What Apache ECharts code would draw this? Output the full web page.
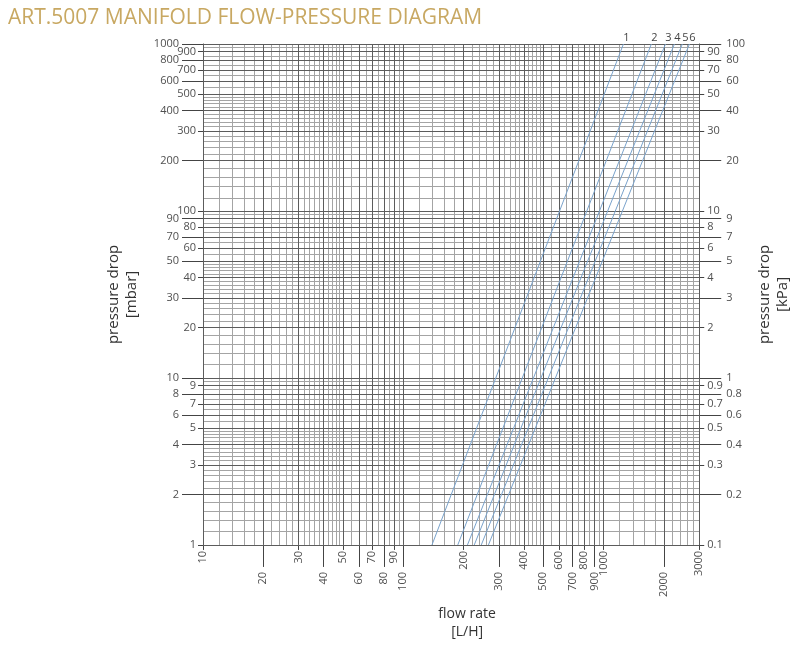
<!DOCTYPE html>
<html>
<head>
<meta charset="utf-8">
<script src="https://cdn.jsdelivr.net/npm/echarts@6/dist/echarts.min.js"></script>
<style>html,body{margin:0;padding:0;background:#fff;}#c{width:800px;height:646px;}</style>
</head>
<body>
<div id="c"></div>
<script>
// ---- data ----
const seriesNames = ['1', '2', '3', '4', '5', '6'];
const flowAtMinDrop = [139, 187, 209, 226, 245, 266];        // L/H at 1 mbar
const flowAtMaxDrop = [1255, 1730, 2035, 2255, 2470, 2680];  // L/H at 1000 mbar
const dropMin = 1, dropMax = 1000;                           // mbar

const xNearLabels = [10, 30, 50, 70, 90, 200, 400, 600, 800, 1000, 3000];
const xFarLabels = [20, 40, 60, 80, 100, 300, 500, 700, 900, 2000];
const yLeftNear = [1, 3, 5, 7, 9, 20, 40, 60, 80, 100, 300, 500, 700, 900];
const yLeftFar = [2, 4, 6, 8, 10, 30, 50, 70, 90, 200, 400, 600, 800, 1000];
const yRightNear = [0.1, 0.3, 0.5, 0.7, 0.9, 2, 4, 6, 8, 10, 30, 50, 70, 90];
const yRightFar = [0.2, 0.4, 0.6, 0.8, 1, 3, 5, 7, 9, 20, 40, 60, 80, 100];

const gridMajorSteps = [1, 2, 3, 4, 5, 6, 7, 8, 9];
const gridMinorSteps = [1.2, 1.4, 1.6, 1.8, 2.2, 2.4, 2.6, 2.8, 3.2, 3.4, 3.6, 3.8, 4.2, 4.4, 4.6, 4.8, 5.5, 6.5, 7.5, 8.5, 9.5];

// ---- build ----
function gridValues(steps, decades, lo, hi) {
  const out = [];
  decades.forEach(d => steps.forEach(s => {
    const v = +(s * d).toPrecision(6);
    if (v >= lo && v <= hi) out.push(v);
  }));
  return out;
}
const xMajor = gridValues(gridMajorSteps, [10, 100, 1000], 10, 3000);
const xMinor = gridValues(gridMinorSteps, [10, 100, 1000], 10, 3000);
const yMajor = gridValues(gridMajorSteps, [1, 10, 100, 1000], 1, 1000);
const yMinor = gridValues(gridMinorSteps, [1, 10, 100], 1, 1000);

const labelColor = '#505050';
const fmt = v => String(+(+v).toPrecision(4));

function axisBase(min, max, pos, vals, tickLen, margin, extra) {
  return Object.assign({
    type: 'log', logBase: 10, min: min, max: max, position: pos,
    axisLine: { show: false },
    splitLine: { show: false },
    minorTick: { show: false },
    axisTick: { show: true, customValues: vals, length: tickLen, lineStyle: { color: '#444', width: 1 } },
    axisLabel: { show: true, customValues: vals, margin: margin, color: labelColor, fontSize: 11,
      fontFamily: 'Open Sans', formatter: fmt }
  }, extra || {});
}

const xAxes = [
  axisBase(10, 3000, 'bottom', xNearLabels, 5, 6, {
    axisLine: { show: true, onZero: false, lineStyle: { color: '#444' } },
    axisLabel: { show: true, customValues: xNearLabels, margin: 6, rotate: 90, color: labelColor,
      fontSize: 11, fontFamily: 'Open Sans', formatter: fmt }
  }),
  axisBase(10, 3000, 'bottom', xFarLabels, 22, 27, {
    axisLabel: { show: true, customValues: xFarLabels, margin: 27, rotate: 90, color: labelColor,
      fontSize: 11, fontFamily: 'Open Sans', formatter: fmt },
    name: 'flow rate\n[L/H]', nameLocation: 'middle', nameGap: 52,
    nameTextStyle: { color: '#333', fontSize: 14, fontFamily: 'Open Sans', lineHeight: 18, padding: [0, 0, 0, 32] }
  })
];

const yAxes = [
  axisBase(dropMin, dropMax, 'left', yLeftNear, 5, 7, {
    axisLine: { show: true, onZero: false, lineStyle: { color: '#444' } }
  }),
  axisBase(dropMin, dropMax, 'left', yLeftFar, 21, 24, {
    name: 'pressure drop\n[mbar]', nameLocation: 'middle', nameGap: 62, nameRotate: 90,
    nameTextStyle: { color: '#333', fontSize: 15, fontFamily: 'Open Sans', lineHeight: 18 }
  }),
  axisBase(dropMin / 10, dropMax / 10, 'right', yRightNear, 5, 8, {
    axisLine: { show: true, onZero: false, lineStyle: { color: '#444' } }
  }),
  axisBase(dropMin / 10, dropMax / 10, 'right', yRightFar, 22, 27, {
    name: 'pressure drop\n[kPa]', nameLocation: 'middle', nameGap: 52, nameRotate: 90,
    nameTextStyle: { color: '#333', fontSize: 15, fontFamily: 'Open Sans', lineHeight: 18 }
  })
];

const gridLines = [];
xMinor.forEach(v => gridLines.push({ xAxis: v, lineStyle: { color: '#a4a4a4' } }));
yMinor.forEach(v => gridLines.push({ yAxis: v, lineStyle: { color: '#a4a4a4' } }));
xMajor.forEach(v => gridLines.push({ xAxis: v, lineStyle: { color: '#5c5c5c' } }));
yMajor.forEach(v => gridLines.push({ yAxis: v, lineStyle: { color: '#5c5c5c' } }));

const series = [{
  type: 'line', name: 'grid', data: [], xAxisIndex: 0, yAxisIndex: 0, z: 1, silent: true,
  markLine: { symbol: ['none', 'none'], silent: true, animation: false, label: { show: false },
    emphasis: { disabled: true },
    lineStyle: { type: 'solid', width: 1, color: '#999' }, data: gridLines }
}];
seriesNames.forEach((n, i) => {
  series.push({
    type: 'line', name: n, xAxisIndex: 0, yAxisIndex: 0, z: 5, silent: true,
    symbol: 'circle', symbolSize: 0.1, showSymbol: true,
    itemStyle: { color: '#7aa3cc' },
    lineStyle: { color: '#7aa3cc', width: 1 },
    clip: false,
    data: [
      [flowAtMinDrop[i], dropMin],
      { value: [flowAtMaxDrop[i], dropMax],
        label: { show: true, position: 'top', distance: 1, offset: [3, 0], formatter: n,
          color: '#444', fontSize: 11, fontFamily: 'Open Sans' } }
    ]
  });
});

const chart = echarts.init(document.getElementById('c'), null, { renderer: 'canvas' });
chart.setOption({
  animation: false,
  backgroundColor: '#fff',
  title: { text: 'ART.5007 MANIFOLD FLOW-PRESSURE DIAGRAM', left: 3, top: 3,
    textStyle: { color: '#c8a862', fontSize: 21, fontWeight: 'normal', fontFamily: 'Open Sans' } },
  grid: { left: 203, right: 100, top: 44, bottom: 88, containLabel: false },
  xAxis: xAxes,
  yAxis: yAxes,
  series: series
});
</script>
</body>
</html>
